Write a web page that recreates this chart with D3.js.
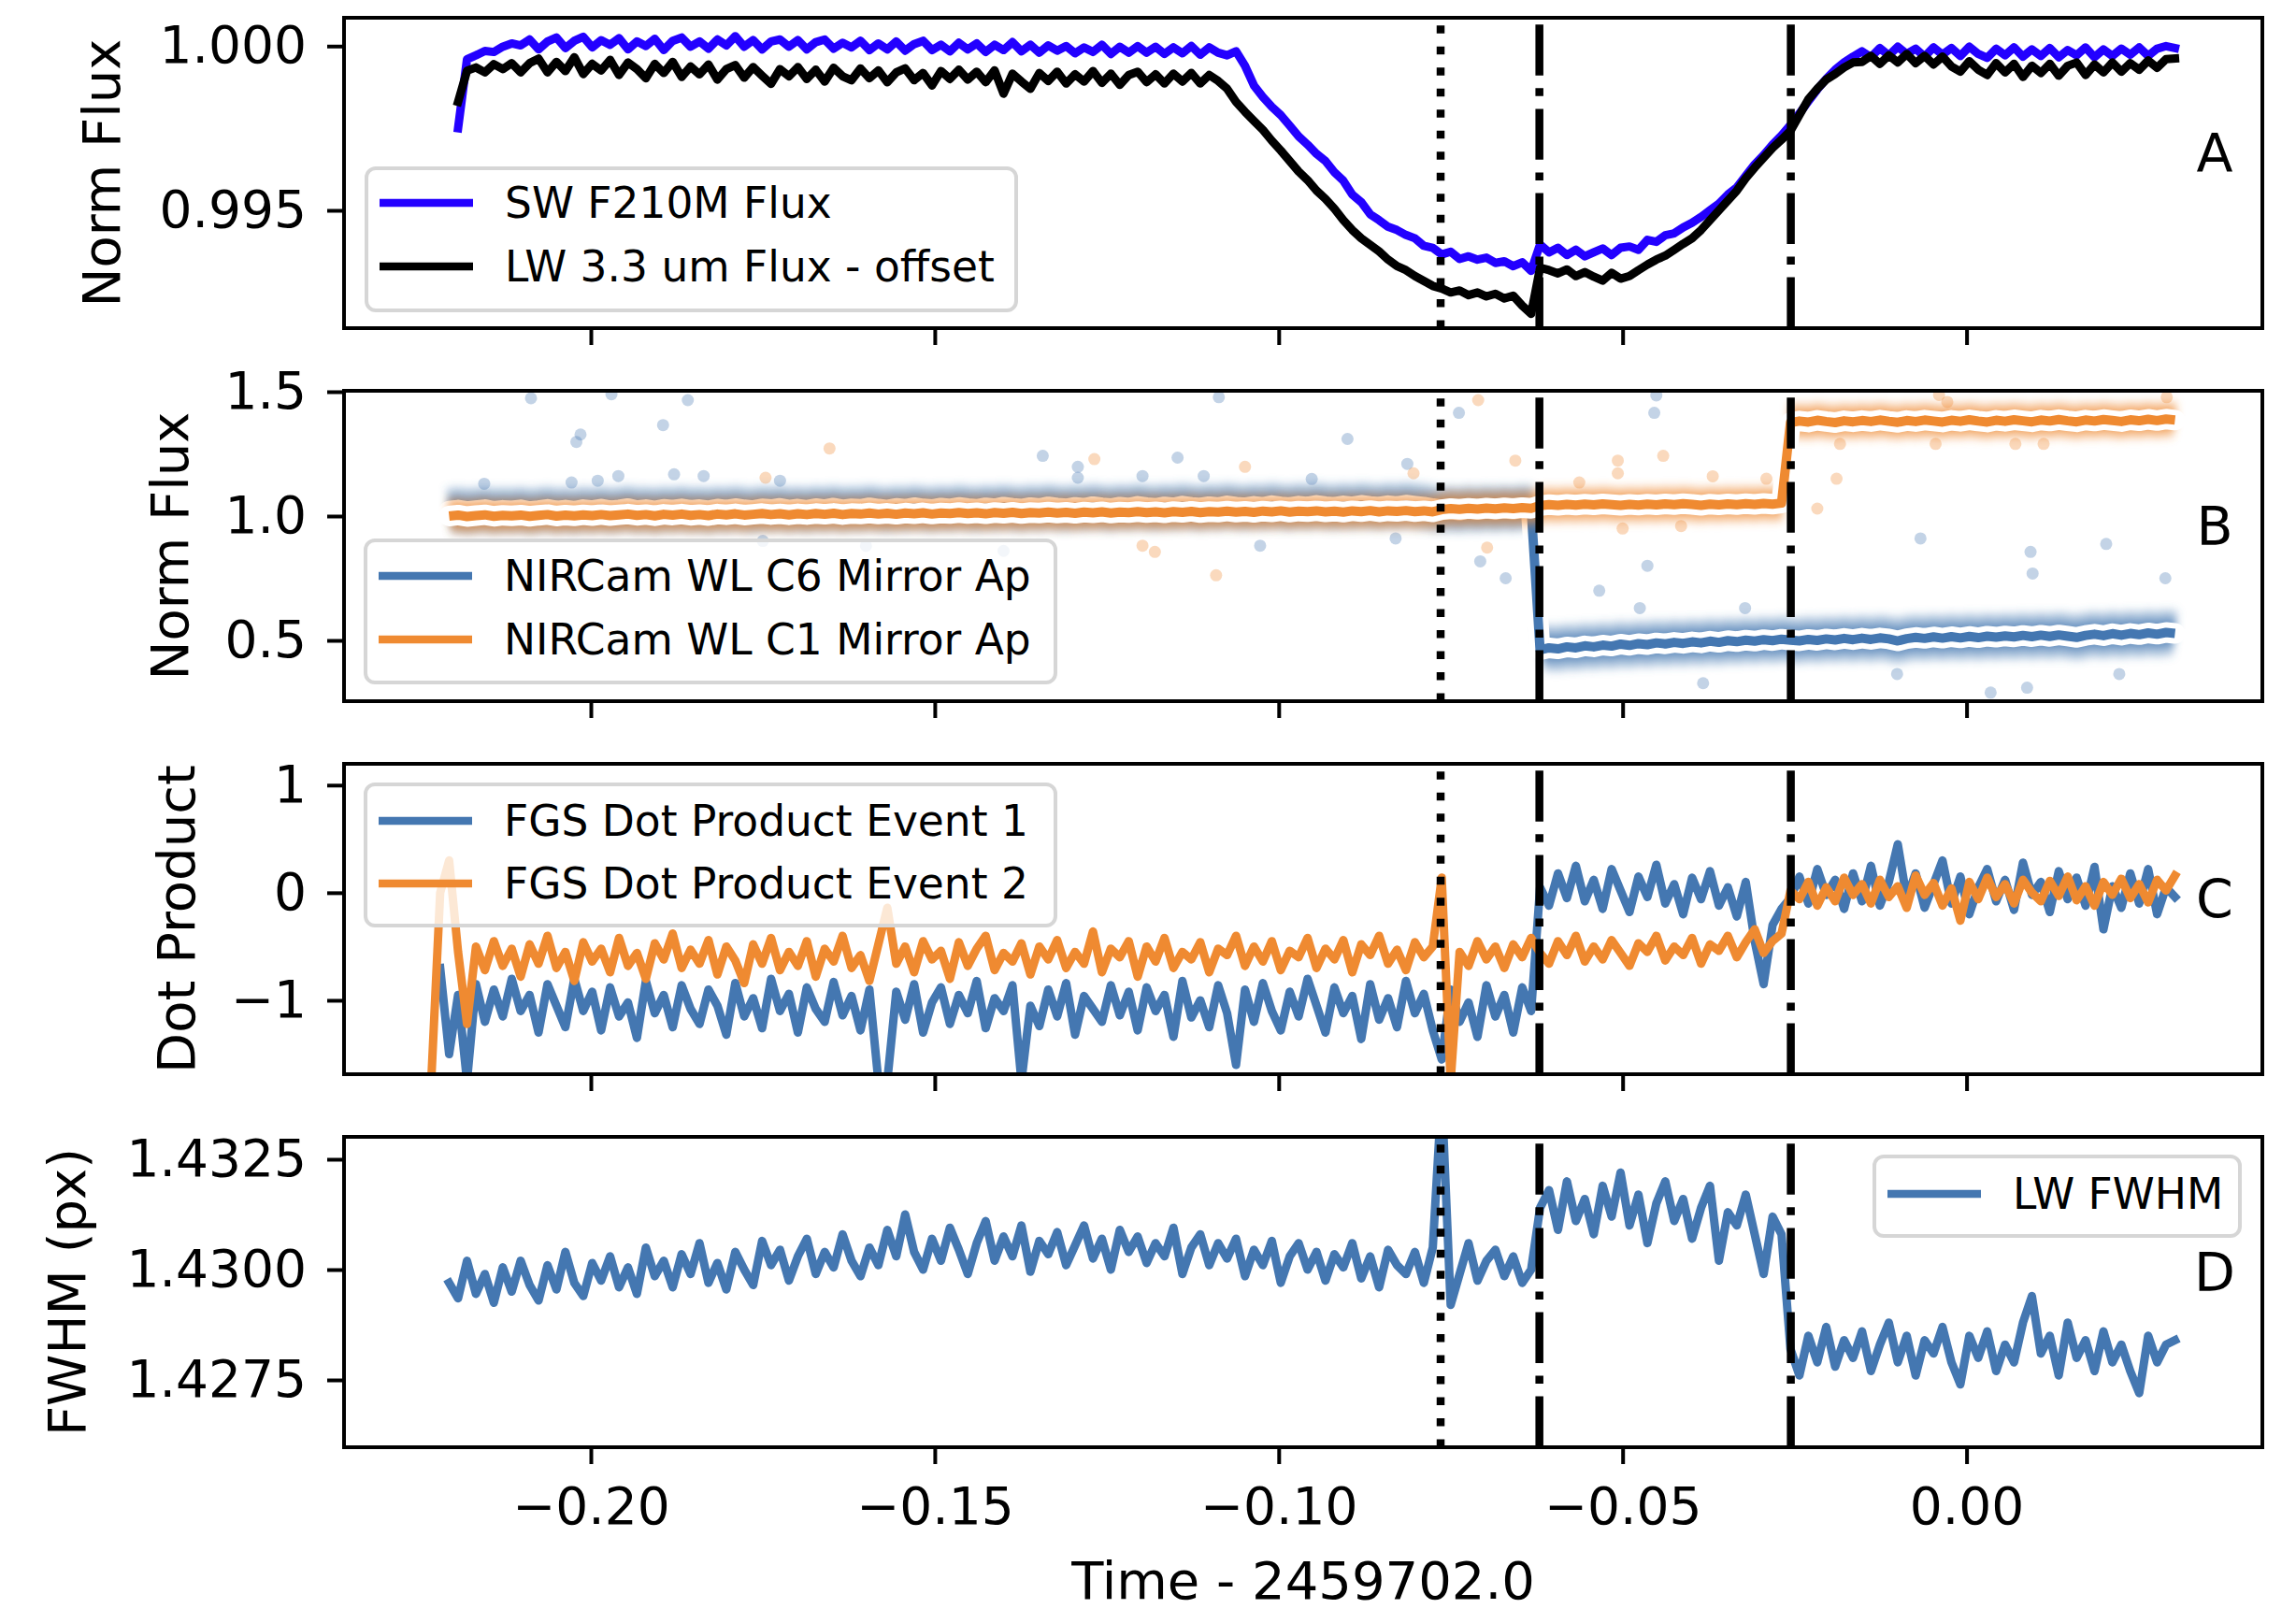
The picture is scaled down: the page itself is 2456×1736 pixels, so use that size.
<!DOCTYPE html>
<html>
<head>
<meta charset="utf-8">
<script src="https://cdn.jsdelivr.net/npm/d3@7"></script>
<style>
  body { margin: 0; background: #ffffff; }
  svg text { font-family: "DejaVu Sans", sans-serif; }
</style>
</head>
<body>
<div id="FIG"></div>
<script>
// shared time grid (days, Time - 2459702.0)
var times = [
  -0.2232,-0.2219,-0.2206,-0.2193,-0.2180,-0.2167,-0.2154,-0.2141,-0.2128,-0.2115,
  -0.2102,-0.2089,-0.2076,-0.2063,-0.2050,-0.2037,-0.2024,-0.2011,-0.1998,-0.1985,
  -0.1972,-0.1959,-0.1946,-0.1933,-0.1920,-0.1907,-0.1894,-0.1881,-0.1868,-0.1855,
  -0.1842,-0.1829,-0.1816,-0.1803,-0.1790,-0.1777,-0.1764,-0.1751,-0.1738,-0.1725,
  -0.1712,-0.1699,-0.1686,-0.1673,-0.1660,-0.1647,-0.1634,-0.1621,-0.1608,-0.1595,
  -0.1582,-0.1569,-0.1556,-0.1543,-0.1530,-0.1517,-0.1504,-0.1491,-0.1478,-0.1465,
  -0.1452,-0.1439,-0.1426,-0.1413,-0.1400,-0.1387,-0.1374,-0.1361,-0.1348,-0.1335,
  -0.1322,-0.1309,-0.1296,-0.1283,-0.1270,-0.1257,-0.1244,-0.1231,-0.1218,-0.1205,
  -0.1192,-0.1179,-0.1166,-0.1153,-0.1140,-0.1127,-0.1114,-0.1101,-0.1088,-0.1075,
  -0.1062,-0.1049,-0.1036,-0.1023,-0.1010,-0.0997,-0.0984,-0.0971,-0.0958,-0.0945,
  -0.0932,-0.0919,-0.0906,-0.0893,-0.0880,-0.0867,-0.0854,-0.0841,-0.0828,-0.0815,
  -0.0802,-0.0789,-0.0776,-0.0763,-0.0750,-0.0737,-0.0724,-0.0711,-0.0698,-0.0685,
  -0.0672,-0.0659,-0.0646,-0.0633,-0.0620,-0.0607,-0.0594,-0.0581,-0.0568,-0.0555,
  -0.0542,-0.0529,-0.0516,-0.0503,-0.0490,-0.0477,-0.0464,-0.0451,-0.0438,-0.0425,
  -0.0412,-0.0399,-0.0386,-0.0373,-0.0360,-0.0347,-0.0334,-0.0321,-0.0308,-0.0295,
  -0.0282,-0.0269,-0.0256,-0.0243,-0.0230,-0.0217,-0.0204,-0.0191,-0.0178,-0.0165,
  -0.0152,-0.0139,-0.0126,-0.0113,-0.0100,-0.0087,-0.0074,-0.0061,-0.0048,-0.0035,
  -0.0022,-0.0009,0.0004,0.0017,0.0030,0.0043,0.0056,0.0069,0.0082,0.0095,
  0.0108,0.0121,0.0134,0.0147,0.0160,0.0173,0.0186,0.0199,0.0212,0.0225,
  0.0238,0.0251,0.0264,0.0277,0.0290,0.0303
];

// panel A
var swFlux = [
  null,null,null,0.99750,0.99960,0.99972,0.99985,0.99982,0.99998,1.00008,
  1.00002,1.00020,0.99990,1.00014,1.00026,0.99994,1.00016,1.00028,0.99996,1.00018,
  1.00004,1.00024,0.99990,1.00014,1.00000,1.00022,0.99988,1.00016,1.00026,0.99998,
  1.00014,0.99992,1.00020,1.00002,1.00030,0.99998,1.00018,0.99990,1.00014,1.00020,
  0.99998,1.00018,0.99990,1.00012,1.00020,0.99992,1.00010,0.99996,1.00016,0.99988,
  1.00008,0.99990,1.00014,0.99986,1.00006,1.00016,0.99988,1.00004,0.99984,1.00010,
  0.99990,1.00008,0.99982,1.00004,0.99988,1.00012,0.99984,1.00004,0.99980,1.00002,
  0.99986,1.00000,0.99978,0.99996,0.99982,1.00004,0.99976,0.99998,0.99980,1.00000,
  0.99980,0.99998,0.99976,0.99996,0.99978,1.00000,0.99974,0.99996,0.99980,0.99972,
  0.99984,0.99940,0.99880,0.99845,0.99815,0.99790,0.99758,0.99725,0.99700,0.99672,
  0.99650,0.99616,0.99590,0.99548,0.99525,0.99488,0.99470,0.99450,0.99440,0.99425,
  0.99415,0.99392,0.99386,0.99366,0.99374,0.99352,0.99360,0.99350,0.99356,0.99340,
  0.99345,0.99330,0.99342,0.99316,0.99396,0.99372,0.99386,0.99364,0.99380,0.99360,
  0.99372,0.99384,0.99364,0.99386,0.99390,0.99380,0.99410,0.99404,0.99424,0.99430,
  0.99448,0.99462,0.99480,0.99500,0.99520,0.99548,0.99570,0.99605,0.99640,0.99668,
  0.99700,0.99728,0.99760,0.99795,0.99832,0.99868,0.99900,0.99928,0.99950,0.99968,
  0.99984,0.99966,0.99994,0.99972,0.99998,0.99976,0.99992,0.99968,0.99996,0.99974,
  0.99994,0.99970,0.99998,0.99976,0.99964,0.99992,0.99972,0.99996,0.99968,0.99990,
  0.99970,0.99994,0.99966,0.99988,0.99972,0.99996,0.99966,0.99990,0.99970,0.99992,
  0.99974,0.99996,0.99970,0.99992,1.00000,0.99994
];
var lwFlux = [
  null,null,null,0.99830,0.99925,0.99935,0.99920,0.99945,0.99930,0.99948,
  0.99920,0.99948,0.99962,0.99920,0.99952,0.99924,0.99966,0.99915,0.99946,0.99926,
  0.99958,0.99912,0.99950,0.99930,0.99902,0.99946,0.99918,0.99952,0.99906,0.99938,
  0.99914,0.99944,0.99898,0.99930,0.99942,0.99904,0.99936,0.99910,0.99885,0.99930,
  0.99908,0.99936,0.99900,0.99928,0.99892,0.99934,0.99908,0.99896,0.99932,0.99902,
  0.99926,0.99890,0.99920,0.99932,0.99896,0.99918,0.99880,0.99924,0.99900,0.99928,
  0.99898,0.99922,0.99890,0.99926,0.99855,0.99916,0.99892,0.99870,0.99918,0.99894,
  0.99922,0.99886,0.99914,0.99892,0.99924,0.99888,0.99916,0.99882,0.99912,0.99922,
  0.99890,0.99914,0.99886,0.99916,0.99892,0.99918,0.99886,0.99912,0.99894,0.99870,
  0.99830,0.99800,0.99772,0.99745,0.99712,0.99682,0.99650,0.99618,0.99592,0.99560,
  0.99535,0.99505,0.99470,0.99440,0.99415,0.99395,0.99375,0.99350,0.99330,0.99318,
  0.99300,0.99285,0.99270,0.99262,0.99250,0.99256,0.99242,0.99250,0.99238,0.99246,
  0.99232,0.99240,0.99210,0.99185,0.99325,0.99318,0.99308,0.99320,0.99300,0.99312,
  0.99298,0.99286,0.99310,0.99292,0.99300,0.99318,0.99335,0.99350,0.99362,0.99380,
  0.99398,0.99415,0.99440,0.99470,0.99500,0.99530,0.99560,0.99598,0.99630,0.99660,
  0.99690,0.99715,0.99742,0.99790,0.99838,0.99870,0.99898,0.99915,0.99935,0.99950,
  0.99952,0.99970,0.99946,0.99972,0.99950,0.99976,0.99948,0.99970,0.99944,0.99968,
  0.99938,0.99922,0.99954,0.99928,0.99912,0.99948,0.99920,0.99946,0.99906,0.99940,
  0.99918,0.99946,0.99910,0.99940,0.99950,0.99912,0.99944,0.99920,0.99950,0.99922,
  0.99948,0.99928,0.99956,0.99934,0.99960,0.99962
];

// panel B: binned medians
var c6Ap = [
  null,null,1.020,1.024,1.018,1.022,1.026,1.019,1.023,1.021,
  1.025,1.018,1.022,1.027,1.020,1.024,1.019,1.026,1.022,1.028,
  1.021,1.025,1.030,1.022,1.026,1.020,1.027,1.024,1.029,1.023,
  1.026,1.021,1.028,1.024,1.030,1.025,1.022,1.029,1.026,1.031,
  1.024,1.028,1.023,1.030,1.026,1.032,1.025,1.029,1.027,1.033,
  1.028,1.024,1.031,1.027,1.034,1.029,1.026,1.032,1.028,1.035,
  1.030,1.027,1.033,1.029,1.036,1.031,1.028,1.034,1.030,1.037,
  1.032,1.029,1.035,1.031,1.038,1.033,1.030,1.036,1.032,1.039,
  1.034,1.031,1.037,1.033,1.040,1.035,1.032,1.038,1.034,1.041,
  1.036,1.033,1.039,1.035,1.042,1.037,1.034,1.040,1.036,1.043,
  1.038,1.035,1.041,1.037,1.043,1.039,1.036,1.042,1.038,1.044,
  1.040,1.036,1.030,1.025,1.028,1.024,1.030,1.026,1.031,1.027,
  1.032,1.028,1.034,1.030,0.462,0.470,0.466,0.474,0.470,0.478,
  0.474,0.481,0.477,0.485,0.480,0.487,0.483,0.490,0.486,0.492,
  0.488,0.494,0.490,0.497,0.492,0.499,0.495,0.501,0.497,0.503,
  0.499,0.505,0.501,0.498,0.504,0.500,0.506,0.502,0.508,0.503,
  0.509,0.504,0.510,0.506,0.498,0.507,0.512,0.508,0.514,0.509,
  0.515,0.510,0.516,0.511,0.517,0.513,0.518,0.514,0.520,0.515,
  0.521,0.516,0.522,0.517,0.512,0.520,0.525,0.519,0.527,0.521,
  0.528,0.523,0.530,0.525,0.532,0.528
];
var c1Ap = [
  null,null,1.000,1.004,0.998,1.002,1.005,0.999,1.003,1.001,
  1.004,0.999,1.003,1.006,1.000,1.004,1.001,1.005,1.002,1.006,
  1.002,1.005,1.008,1.003,1.006,1.001,1.007,1.004,1.008,1.003,
  1.006,1.002,1.008,1.005,1.009,1.004,1.007,1.010,1.006,1.009,
  1.005,1.009,1.006,1.010,1.007,1.011,1.006,1.010,1.008,1.012,
  1.008,1.011,1.007,1.012,1.009,1.013,1.008,1.012,1.010,1.014,
  1.010,1.013,1.009,1.014,1.011,1.015,1.010,1.014,1.012,1.016,
  1.012,1.015,1.011,1.016,1.013,1.017,1.012,1.016,1.014,1.018,
  1.014,1.017,1.013,1.018,1.015,1.019,1.014,1.018,1.016,1.020,
  1.016,1.019,1.015,1.020,1.017,1.021,1.016,1.020,1.018,1.021,
  1.017,1.020,1.016,1.021,1.018,1.022,1.017,1.021,1.019,1.022,
  1.018,1.021,1.017,1.026,1.030,1.027,1.031,1.028,1.032,1.029,
  1.033,1.030,1.034,1.031,1.042,1.046,1.043,1.047,1.044,1.048,
  1.045,1.049,1.046,1.043,1.047,1.044,1.048,1.045,1.049,1.046,
  1.050,1.047,1.043,1.048,1.045,1.049,1.046,1.050,1.047,1.051,
  1.048,1.052,1.376,1.382,1.378,1.385,1.380,1.376,1.383,1.379,
  1.384,1.380,1.386,1.381,1.377,1.384,1.380,1.386,1.382,1.378,
  1.385,1.381,1.387,1.382,1.378,1.385,1.381,1.387,1.383,1.379,
  1.386,1.382,1.388,1.383,1.379,1.386,1.382,1.388,1.384,1.380,
  1.387,1.383,1.389,1.384,1.390,1.386
];
// where each median jumps (index of first point after the jump)
var c6Breaks = [124];
var c1Breaks = [152];

// panel B: stray single exposures off the main cloud
var c6StrayT = [-0.2087,-0.1970,-0.1859,-0.1895,-0.2015,-0.2021,-0.1087,-0.1343,-0.1147,-0.1292,
  -0.1292,-0.1879,-0.1836,-0.1960,-0.1990,-0.2028,-0.2155,-0.1725,-0.1198,-0.1109,
  -0.1027,-0.0900,-0.0738,-0.0813,-0.0952,-0.0454,-0.0451,-0.0830,-0.0707,-0.0670,
  -0.0464,-0.0534,-0.0475,-0.0322,-0.0067,0.0093,0.0096,0.0203,0.0289,-0.0383,
  -0.0101,0.0035,0.0088,0.0222,-0.1600,-0.1400,-0.1750];
var c6StrayV = [1.474,1.490,1.466,1.366,1.328,1.298,1.478,1.242,1.235,1.198,
  1.154,1.168,1.161,1.161,1.142,1.135,1.130,1.142,1.161,1.161,
  0.881,1.310,1.415,1.210,1.149,1.415,1.485,0.910,0.818,0.750,
  0.800,0.700,0.630,0.630,0.910,0.856,0.769,0.888,0.750,0.328,
  0.365,0.290,0.310,0.365,0.880,0.860,0.900];
var c1StrayT = [-0.1653,-0.1268,-0.1049,-0.1091,-0.1198,-0.1180,-0.1746,-0.0710,-0.0804,-0.0656,
  -0.0697,-0.0507,-0.0507,-0.0441,-0.0563,-0.0369,-0.0291,-0.0189,-0.0217,-0.0028,
  0.0291,-0.0040,0.0071,0.0112,-0.0184,-0.0045,-0.0415,-0.0500];
var c1StrayV = [1.272,1.229,1.198,0.762,0.881,0.856,1.154,1.466,1.172,1.223,
  0.873,1.223,1.172,1.242,1.135,1.160,1.150,1.150,1.030,1.459,
  1.478,1.487,1.290,1.290,1.290,1.290,0.960,0.950];

// panel C
var dotEvent1 = [
  null,-0.70,-1.50,-0.95,-1.75,-0.85,-1.20,-0.90,-1.15,-0.80,
  -1.10,-0.95,-1.30,-0.85,-1.05,-1.25,-0.80,-1.10,-0.92,-1.28,
  -0.88,-1.15,-1.02,-1.35,-0.82,-1.12,-0.95,-1.25,-0.86,-1.08,
  -1.22,-0.90,-1.05,-1.32,-0.84,-1.15,-0.98,-1.26,-0.80,-1.10,
  -0.94,-1.30,-0.88,-1.08,-1.20,-0.83,-1.14,-0.96,-1.28,-0.90,
  -1.75,-1.75,-0.92,-1.18,-0.85,-1.30,-1.02,-0.88,-1.22,-0.95,
  -1.12,-0.82,-1.26,-0.98,-1.10,-0.86,-1.75,-1.05,-1.24,-0.90,
  -1.15,-0.84,-1.32,-0.96,-1.08,-1.20,-0.86,-1.14,-0.92,-1.28,
  -0.88,-1.10,-0.95,-1.34,-0.82,-1.16,-1.00,-1.25,-0.86,-1.12,
  -1.60,-0.90,-1.20,-0.84,-1.10,-1.28,-0.92,-1.15,-0.80,-1.05,
  -1.30,-0.88,-1.12,-0.96,-1.36,-0.85,-1.18,-0.98,-1.25,-0.82,
  -1.12,-0.94,-1.28,-1.55,-0.90,-1.20,-1.02,-1.34,-0.86,-1.15,
  -0.95,-1.30,-0.88,-1.10,0.05,-0.12,0.18,-0.05,0.25,-0.08,
  0.12,-0.15,0.22,0.02,-0.18,0.15,-0.04,0.26,-0.10,0.08,
  -0.20,0.14,-0.06,0.20,-0.12,0.05,-0.22,0.10,-0.45,-0.85,
  -0.30,-0.15,-0.05,0.15,-0.10,0.22,-0.02,0.12,-0.15,0.18,
  -0.08,0.25,-0.12,0.10,0.45,-0.05,0.18,-0.14,0.08,0.30,
  -0.10,0.15,-0.20,0.05,0.22,-0.08,0.12,-0.16,0.28,-0.02,
  0.10,-0.18,0.20,-0.06,0.14,-0.12,0.24,-0.34,0.06,-0.14,
  0.18,-0.10,0.22,-0.20,0.05,-0.04
];
var dotEvent2 = [
  -1.75,0.00,0.30,-0.55,-1.22,-0.50,-0.72,-0.45,-0.68,-0.52,
  -0.78,-0.48,-0.66,-0.40,-0.70,-0.55,-0.82,-0.46,-0.64,-0.52,
  -0.74,-0.42,-0.68,-0.56,-0.80,-0.47,-0.62,-0.38,-0.70,-0.53,
  -0.66,-0.44,-0.76,-0.50,-0.63,-0.84,-0.48,-0.66,-0.42,-0.72,
  -0.55,-0.68,-0.45,-0.78,-0.52,-0.64,-0.40,-0.70,-0.58,-0.82,
  -0.48,-0.14,-0.66,-0.50,-0.74,-0.45,-0.62,-0.54,-0.80,-0.46,
  -0.68,-0.52,-0.40,-0.72,-0.56,-0.64,-0.47,-0.76,-0.50,-0.62,
  -0.44,-0.70,-0.55,-0.66,-0.36,-0.74,-0.52,-0.60,-0.45,-0.78,
  -0.50,-0.64,-0.42,-0.70,-0.55,-0.62,-0.46,-0.74,-0.52,-0.58,
  -0.40,-0.68,-0.50,-0.64,-0.45,-0.72,-0.54,-0.60,-0.42,-0.70,
  -0.52,-0.62,-0.44,-0.74,-0.48,-0.58,-0.40,-0.66,-0.53,-0.72,
  -0.46,-0.60,-0.50,0.14,-1.75,-0.55,-0.68,-0.45,-0.62,-0.50,
  -0.70,-0.48,-0.60,-0.42,-0.56,-0.66,-0.45,-0.58,-0.40,-0.64,
  -0.50,-0.62,-0.44,-0.56,-0.68,-0.47,-0.55,-0.40,-0.63,-0.50,
  -0.58,-0.42,-0.66,-0.48,-0.54,-0.40,-0.60,-0.46,-0.34,-0.56,
  -0.45,-0.38,0.02,-0.06,0.10,-0.12,0.05,-0.08,0.14,-0.02,
  0.08,-0.10,0.12,-0.04,0.06,-0.14,0.16,-0.02,0.09,-0.12,
  0.04,-0.26,0.10,-0.06,0.14,-0.04,0.08,-0.10,0.12,0.00,
  -0.08,0.11,-0.03,0.15,-0.07,0.06,-0.12,0.10,-0.02,0.13,
  -0.05,0.08,-0.09,0.12,0.02,0.16
];

// panel D
var lwFwhm = [
  null,null,1.42970,1.42935,1.43020,1.42945,1.42990,1.42925,1.43005,1.42950,
  1.43020,1.42965,1.42930,1.43010,1.42955,1.43040,1.42970,1.42940,1.43015,1.42975,
  1.43030,1.42960,1.43005,1.42945,1.43050,1.42985,1.43020,1.42960,1.43035,1.42990,
  1.43060,1.42970,1.43015,1.42955,1.43040,1.43000,1.42965,1.43065,1.43010,1.43045,
  1.42975,1.43030,1.43070,1.42990,1.43040,1.43005,1.43080,1.43020,1.42985,1.43050,
  1.43010,1.43090,1.43030,1.43125,1.43040,1.43000,1.43070,1.43020,1.43095,1.43045,
  1.42990,1.43060,1.43110,1.43020,1.43075,1.43030,1.43100,1.42995,1.43065,1.43035,
  1.43085,1.43010,1.43055,1.43100,1.43025,1.43070,1.43000,1.43090,1.43040,1.43075,
  1.43015,1.43060,1.43030,1.43095,1.42990,1.43050,1.43080,1.43010,1.43060,1.43025,
  1.43070,1.42985,1.43045,1.43010,1.43065,1.42970,1.43030,1.43060,1.43000,1.43040,
  1.42975,1.43035,1.43005,1.43060,1.42980,1.43030,1.42960,1.43045,1.43010,1.42990,
  1.43040,1.42970,1.43050,1.43400,1.42920,1.42990,1.43060,1.42975,1.43020,1.43045,
  1.42985,1.43030,1.42970,1.43000,1.43140,1.43180,1.43090,1.43200,1.43110,1.43160,
  1.43080,1.43190,1.43120,1.43220,1.43100,1.43170,1.43060,1.43150,1.43200,1.43110,
  1.43160,1.43070,1.43140,1.43190,1.43020,1.43130,1.43100,1.43170,1.43080,1.42990,
  1.43120,1.43080,1.42820,1.42760,1.42850,1.42790,1.42870,1.42780,1.42840,1.42800,
  1.42860,1.42770,1.42830,1.42880,1.42790,1.42850,1.42760,1.42840,1.42810,1.42870,
  1.42790,1.42740,1.42850,1.42800,1.42860,1.42770,1.42830,1.42790,1.42880,1.42940,
  1.42810,1.42850,1.42760,1.42880,1.42800,1.42840,1.42770,1.42860,1.42790,1.42830,
  1.42770,1.42720,1.42850,1.42790,1.42830,1.42840
];

// event markers and ticks
var eventTimes = [-0.07646, -0.0621, -0.02555];
var eventKinds = ["dotted", "dashdot", "dashdot"];
var xTicks = [-0.20, -0.15, -0.10, -0.05, 0.00];
var yTicksA = [0.995, 1.000];
var yTicksB = [0.5, 1.0, 1.5];
var yTicksC = [-1, 0, 1];
var yTicksD = [1.4275, 1.4300, 1.4325];

var colors = {sw: "#2300ff", lw: "#000000", blue: "#4477b1", orange: "#ef8a31"};

// figure geometry
var W = 2456, H = 1736;
var plotLeft = 368, plotRight = 2420, panelH = 332;
var tickFont = 55, labelFont = 56, legendFont = 45.5;
var dataWidth = 9;

var svg = d3.select("#FIG")
  .append("svg")
    .attr("width", W)
    .attr("height", H)
    .style("background", "#ffffff");

var x = d3.scaleLinear()
  .domain([-0.23588, 0.04300])
  .range([plotLeft, plotRight]);

var panels = [
  {letter: "A", top: 19,   domain: [0.991414, 1.000862], ticks: yTicksA, fmt: d3.format(".3f"), label: "Norm Flux",   labelX: 108},
  {letter: "B", top: 418,  domain: [0.2556, 1.5037],     ticks: yTicksB, fmt: d3.format(".1f"), label: "Norm Flux",   labelX: 181},
  {letter: "C", top: 817,  domain: [-1.687, 1.198],      ticks: yTicksC, fmt: d3.format("d"),   label: "Dot Product", labelX: 188},
  {letter: "D", top: 1216, domain: [1.425975, 1.433008], ticks: yTicksD, fmt: d3.format(".4f"), label: "FWHM (px)",   labelX: 71}
];

var defs = svg.append("defs");

// soft edge for the exposure clouds
defs.append("filter")
    .attr("id", "soft")
    .attr("x", "-5%").attr("y", "-50%")
    .attr("width", "110%").attr("height", "200%")
  .append("feGaussianBlur")
    .attr("stdDeviation", 4);

function pairs(vals) {
  return d3.zip(times, vals);
}

function makeLine(y) {
  return d3.line()
    .defined(function(d) { return d[1] != null; })
    .x(function(d) { return x(d[0]); })
    .y(function(d) { return y(d[1]); });
}

function drawLine(g, y, vals, color, width) {
  return g.append("path")
    .attr("d", makeLine(y)(pairs(vals)))
    .attr("fill", "none")
    .attr("stroke", color)
    .attr("stroke-width", width)
    .attr("stroke-linejoin", "round")
    .attr("stroke-linecap", "square");
}

// cloud of exposures under a binned median, split where the median jumps
function drawCloud(g, y, vals, breaks, color, width) {
  var cg = g.append("g").attr("filter", "url(#soft)");
  var bounds = [0].concat(breaks).concat([vals.length]);
  for (var k = 0; k < bounds.length - 1; k++) {
    var seg = pairs(vals).slice(bounds[k], bounds[k + 1]);
    [[width, 0.35], [width * 0.7, 0.45], [width * 0.45, 0.55]].forEach(function(s) {
      cg.append("path")
        .attr("d", makeLine(y)(seg))
        .attr("fill", "none")
        .attr("stroke", color)
        .attr("stroke-width", s[0])
        .attr("stroke-opacity", s[1])
        .attr("stroke-linejoin", "round")
        .attr("stroke-linecap", "butt");
    });
  }
}

function drawStrays(g, y, ts, vs, color) {
  g.selectAll(null)
    .data(d3.zip(ts, vs))
    .enter()
    .append("circle")
      .attr("cx", function(d) { return x(d[0]); })
      .attr("cy", function(d) { return y(d[1]); })
      .attr("r", 6.5)
      .attr("fill", color)
      .attr("fill-opacity", 0.32);
}

function drawMedian(g, y, vals, color) {
  drawLine(g, y, vals, "#ffffff", 22).attr("stroke-linecap", "round");
  drawLine(g, y, vals, color, 10).attr("stroke-linecap", "butt");
}

function drawLegend(g, box, items) {
  var lg = g.append("g");
  lg.append("rect")
    .attr("x", box.x).attr("y", box.y)
    .attr("width", box.w).attr("height", box.h)
    .attr("rx", 10)
    .attr("fill", "#ffffff").attr("fill-opacity", 0.8)
    .attr("stroke", "#d6d6d6").attr("stroke-width", 4);
  items.forEach(function(it, i) {
    var ry = box.rows[i];
    lg.append("line")
      .attr("x1", box.x + 14).attr("x2", box.x + 114)
      .attr("y1", ry).attr("y2", ry)
      .attr("stroke", it.color).attr("stroke-width", 8.5);
    lg.append("text")
      .attr("x", box.x + 148).attr("y", ry)
      .attr("dominant-baseline", "central")
      .attr("font-size", legendFont)
      .text(it.label);
  });
}

panels.forEach(function(p, pi) {
  var top = p.top, bottom = p.top + panelH;
  var y = d3.scaleLinear().domain(p.domain).range([bottom, top]);
  var g = svg.append("g");

  defs.append("clipPath")
    .attr("id", "clip" + p.letter)
    .append("rect")
      .attr("x", plotLeft).attr("y", top)
      .attr("width", plotRight - plotLeft).attr("height", panelH);

  var data = g.append("g").attr("clip-path", "url(#clip" + p.letter + ")");

  if (p.letter === "A") {
    drawLine(data, y, swFlux, colors.sw, dataWidth);
    drawLine(data, y, lwFlux, colors.lw, dataWidth);
  } else if (p.letter === "B") {
    drawCloud(data, y, c6Ap, c6Breaks, colors.blue, 50);
    drawStrays(data, y, c6StrayT, c6StrayV, colors.blue);
    drawMedian(data, y, c6Ap, colors.blue);
    drawCloud(data, y, c1Ap, c1Breaks, colors.orange, 40);
    drawStrays(data, y, c1StrayT, c1StrayV, colors.orange);
    drawMedian(data, y, c1Ap, colors.orange);
  } else if (p.letter === "C") {
    drawLine(data, y, dotEvent1, colors.blue, dataWidth);
    drawLine(data, y, dotEvent2, colors.orange, dataWidth);
  } else {
    drawLine(data, y, lwFwhm, colors.blue, dataWidth);
  }

  // event markers, drawn from the bottom up like axvline
  eventTimes.forEach(function(t, k) {
    var lw = 8.5;
    var dash = eventKinds[k] === "dotted"
      ? [1 * lw, 1.65 * lw]
      : [6.4 * lw, 1.6 * lw, 1 * lw, 1.6 * lw];
    g.append("line")
      .attr("x1", x(t)).attr("x2", x(t))
      .attr("y1", bottom).attr("y2", top)
      .attr("stroke", "#000000")
      .attr("stroke-width", lw)
      .attr("stroke-dasharray", dash.join(","));
  });

  // legends
  if (p.letter === "A") {
    drawLegend(g, {x: 392, y: 180, w: 695, h: 152, rows: [217, 285]},
      [{label: "SW F210M Flux", color: colors.sw}, {label: "LW 3.3 um Flux - offset", color: colors.lw}]);
  } else if (p.letter === "B") {
    drawLegend(g, {x: 391, y: 578, w: 738, h: 152, rows: [616, 684]},
      [{label: "NIRCam WL C6 Mirror Ap", color: colors.blue}, {label: "NIRCam WL C1 Mirror Ap", color: colors.orange}]);
  } else if (p.letter === "C") {
    drawLegend(g, {x: 391, y: 839, w: 738, h: 151, rows: [878, 945]},
      [{label: "FGS Dot Product Event 1", color: colors.blue}, {label: "FGS Dot Product Event 2", color: colors.orange}]);
  } else {
    drawLegend(g, {x: 2005, y: 1237, w: 391, h: 85, rows: [1277]},
      [{label: "LW FWHM", color: colors.blue}]);
  }

  // y axis
  var yAxis = g.append("g")
    .attr("transform", "translate(" + plotLeft + ",0)")
    .call(d3.axisLeft(y).tickValues(p.ticks).tickFormat(p.fmt).tickSize(18).tickPadding(22));
  // x axis (labels only on the last panel)
  var xAxis = g.append("g")
    .attr("transform", "translate(0," + bottom + ")")
    .call(d3.axisBottom(x).tickValues(xTicks)
      .tickFormat(pi === panels.length - 1 ? d3.format(".2f") : function() { return ""; })
      .tickSize(18).tickPadding(25));
  [yAxis, xAxis].forEach(function(a) {
    a.select(".domain").remove();
    a.selectAll(".tick line").attr("stroke", "#000000").attr("stroke-width", 4);
    a.selectAll(".tick text")
      .attr("font-family", "DejaVu Sans")
      .attr("font-size", tickFont)
      .attr("fill", "#000000");
  });

  // frame
  g.append("rect")
    .attr("x", plotLeft).attr("y", top)
    .attr("width", plotRight - plotLeft).attr("height", panelH)
    .attr("fill", "none")
    .attr("stroke", "#000000")
    .attr("stroke-width", 4);

  // panel letter
  g.append("text")
    .attr("x", 2369).attr("y", top + 145)
    .attr("text-anchor", "middle")
    .attr("dominant-baseline", "central")
    .attr("font-size", 57)
    .text(p.letter);

  // y label
  g.append("text")
    .attr("transform", "translate(" + p.labelX + "," + (top + panelH / 2) + ") rotate(-90)")
    .attr("text-anchor", "middle")
    .attr("dominant-baseline", "central")
    .attr("font-size", labelFont)
    .text(p.label);
});

// x label
svg.append("text")
  .attr("x", (plotLeft + plotRight) / 2)
  .attr("y", 1710)
  .attr("text-anchor", "middle")
  .attr("font-size", labelFont)
  .text("Time - 2459702.0");
</script>
</body>
</html>
